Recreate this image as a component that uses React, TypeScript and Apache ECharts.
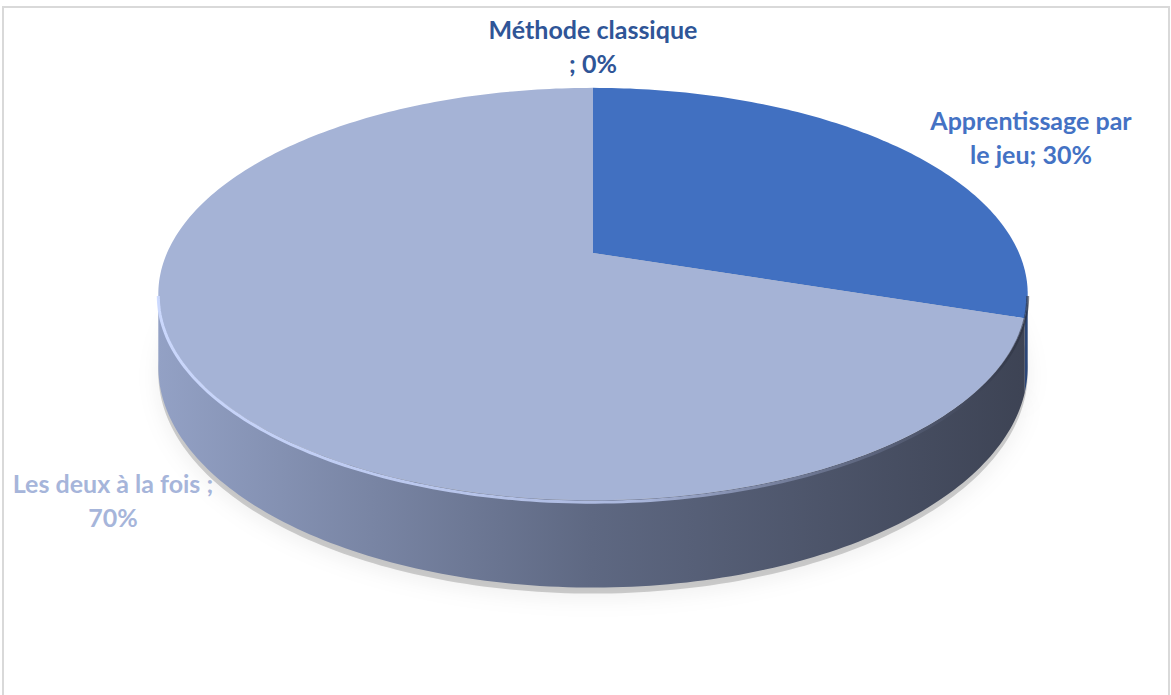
import React, { useEffect, useRef } from "react";
import * as echarts from "echarts";

const categories = ["Méthode classique", "Apprentissage par le jeu", "Les deux à la fois"];
const values = [0, 30, 70];
const labelTexts = ["Méthode classique\n; 0%", "Apprentissage par\nle jeu; 30%", "Les deux à la fois ;\n70%"];

const topColors = ["#2f5597", "#4170c1", "#a5b3d6"];
const sideColors: any[] = [
  "#24406f",
  "#2b4677",
  {
    type: "linear", x: 157, y: 0, x2: 1027, y2: 0, global: true,
    colorStops: [
      { offset: 0, color: "#93a1c5" },
      { offset: 0.5, color: "#5e6882" },
      { offset: 1, color: "#3d4354" },
    ],
  },
];
const labelColors = ["#2f5597", "#4472c4", "#a6b5da"];
const labelAnchors = [[593, 46], [1031, 137], [113, 500]];

const CX = 593, CY = 253, RX = 426, RY = 198, PERSP = 0.199, DEPTH = 70;
const SIL = Math.asin(PERSP) * 180 / Math.PI;
const VIS_A = 90 + SIL, VIS_B = 270 - SIL;

function proj(deg: number, drop: number): number[] {
  const t = deg * Math.PI / 180;
  const u = Math.sin(t), v = -Math.cos(t);
  const w = 1 - PERSP * v;
  return [CX + RX * u / w, CY + RY * v / w + DEPTH * drop / w];
}
function arc(a: number, b: number, drop: number, dy = 0): number[][] {
  const n = Math.max(2, Math.ceil(Math.abs(b - a) / 1));
  const pts: number[][] = [];
  for (let i = 0; i <= n; i++) {
    const p = proj(a + (b - a) * i / n, drop);
    pts.push([p[0], p[1] + dy]);
  }
  return pts;
}

const total = values.reduce((s, v) => s + v, 0);
const cum: number[] = [];
values.reduce((s, v, i) => { cum[i] = s; return s + v; }, 0);

export default function App() {
  const ref = useRef<HTMLDivElement>(null);
  useEffect(() => {
    const chart = echarts.init(ref.current!, undefined, { renderer: "svg" });
    const renderItem = (params: any, api: any) => {
      const i = params.dataIndex;
      const v = api.value(0);
      const start = (cum[i] / total) * 360;
      const end = start + (v / total) * 360;
      const children: any[] = [];
      if (v > 0) {
        children.push({
          type: "polygon", z2: 0,
          shape: { points: [[CX, CY + DEPTH + 6], ...arc(start, end, 1, 6)] },
          style: { fill: "rgba(0,0,0,0.18)", shadowBlur: 22, shadowColor: "rgba(0,0,0,0.35)", shadowOffsetY: 4 },
          silent: true,
        });
        const a = Math.max(start, VIS_A), b = Math.min(end, VIS_B);
        if (a < b) {
          children.push({
            type: "polygon", z2: 1,
            shape: { points: [...arc(a, b, 0), ...arc(b, a, 1)] },
            style: { fill: sideColors[i] },
          });
          children.push({
            type: "polyline", z2: 3,
            shape: { points: arc(a, b, 0, 2) },
            style: {
              fill: null, lineWidth: 3,
              stroke: {
                type: "linear", x: 157, y: 0, x2: 1027, y2: 0, global: true,
                colorStops: [
                  { offset: 0, color: "rgba(205,218,255,0.95)" },
                  { offset: 0.55, color: "rgba(190,204,245,0.8)" },
                  { offset: 0.8, color: "rgba(120,130,160,0.5)" },
                  { offset: 1, color: "rgba(40,45,60,0.6)" },
                ],
              },
            },
          });
        }
        children.push({
          type: "polygon", z2: 2,
          shape: { points: [[CX, CY], ...arc(start, end, 0)] },
          style: { fill: topColors[i] },
        });
      }
      children.push({
        type: "text", z2: 4,
        style: {
          text: labelTexts[i], x: labelAnchors[i][0], y: labelAnchors[i][1],
          fill: labelColors[i], font: "bold 25px Lato", align: "center",
          verticalAlign: "middle", lineHeight: 34,
        },
      });
      return { type: "group", children };
    };
    chart.setOption({
      animation: false,
      backgroundColor: "#ffffff",
      graphic: [{
        type: "rect", z: -1, silent: true,
        shape: { x: 3, y: 7, width: 1166, height: 700 },
        style: { fill: "#ffffff", stroke: "#d9d9d9", lineWidth: 2 },
      }],
      series: [{
        type: "custom", coordinateSystem: "none",
        data: values.map((v, i) => ({ name: categories[i], value: [v, i] })),
        renderItem,
      }],
    });
    return () => chart.dispose();
  }, []);
  return <div ref={ref} style={{ position: "fixed", left: 0, top: 0, width: 1171, height: 695 }} />;
}
